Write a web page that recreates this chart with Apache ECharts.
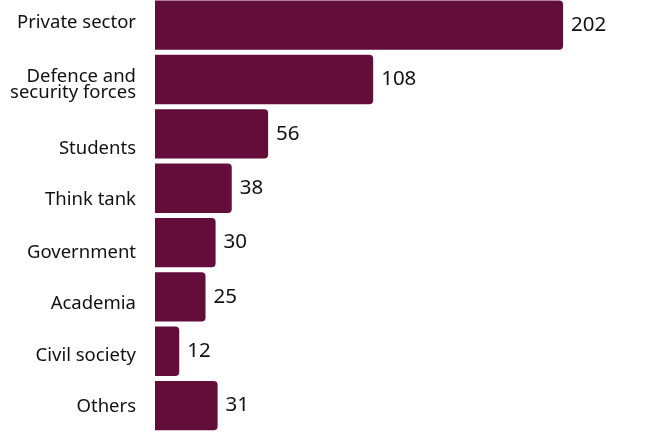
<!DOCTYPE html>
<html><head><meta charset="utf-8">
<script src="https://cdn.jsdelivr.net/npm/echarts@6/dist/echarts.min.js"></script>
<style>html,body{margin:0;padding:0;background:#fff}#c{width:662px;height:432px}</style>
</head><body><div id="c"></div>
<script>
const categories = ["Private sector", "Defence and\nsecurity forces", "Students", "Think tank", "Government", "Academia", "Civil society", "Others"];
const values = [202, 108, 56, 38, 30, 25, 12, 31];
const barColor = "#630D3A";
// vertical nudge of each category label relative to its bar (px), as in the reference layout
const labelShift = [-2, 7, 15, 11.6, 9.9, 6.3, 4.5, 1];
const labelFont = {fontFamily: 'Noto Sans', fontSize: 18.5, lineHeight: 20.5, color: '#111', align: 'right'};
const rich = {n: Object.assign({}, labelFont, {padding: [6, 0, 0, 0]})};
labelShift.forEach((s, i) => {
  const p = Math.round(Math.abs(s) * 2);
  rich['l' + i] = Object.assign({}, labelFont, {padding: s >= 0 ? [p, 0, 0, 0] : [0, 0, p, 0]});
});
const chart = echarts.init(document.getElementById('c'), null, {renderer: 'canvas'});
chart.setOption({
  animation: false,
  grid: {left: 155, top: -2, width: 505, height: 434.8, containLabel: false, outerBoundsMode: 'none'},
  xAxis: {type: 'value', min: 0, max: 250, show: false},
  yAxis: {type: 'category', data: categories, inverse: true,
    axisLine: {show: false}, axisTick: {show: false}, splitLine: {show: false},
    axisLabel: Object.assign({margin: 19, rich: rich,
      formatter: (v, i) => v.split('\n').map((t, k) => '{' + (k === 0 ? 'l' + i : 'n') + '|' + t + '}').join('\n')}, labelFont),
  },
  series: [{type: 'bar', data: values, barCategoryGap: '9.2%',
    itemStyle: {color: barColor, borderRadius: [0, 4, 4, 0]},
    label: {show: true, position: 'right', distance: 8, color: '#111', fontFamily: 'Noto Sans', fontSize: 20.5}}]
});
</script></body></html>
